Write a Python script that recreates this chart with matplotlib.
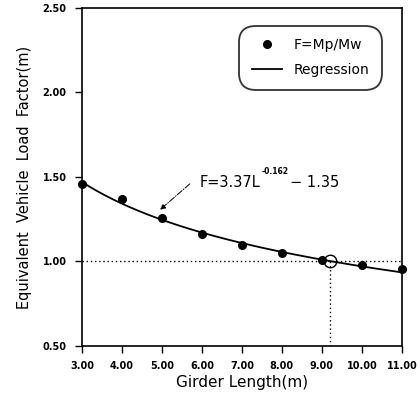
import numpy as np
import matplotlib
matplotlib.use("Agg")
import matplotlib.pyplot as plt
from matplotlib.transforms import offset_copy

# Data
girder_length = [3, 4, 5, 6, 7, 8, 9, 10, 11]
load_factor = [1.46, 1.37, 1.255, 1.165, 1.10, 1.05, 1.01, 0.98, 0.955]
reg_a, reg_b, reg_c = 3.37, -0.162, 1.35
crit_length = 9.2
crit_value = 1.00
x_ticks = [3, 4, 5, 6, 7, 8, 9, 10, 11]
y_ticks = [0.5, 1.0, 1.5, 2.0, 2.5]

fig = plt.figure(figsize=(4.2, 3.99), dpi=100)
ax = fig.add_axes([0.195, 0.133, 0.762, 0.847])
ax.set_xlim(3, 11)
ax.set_ylim(0.5, 2.5)

L = np.linspace(3, 11, 200)
F = reg_a * L ** reg_b - reg_c
ax.plot(L, F, color='black', lw=1.3, label='Regression', zorder=3)
ax.plot(girder_length, load_factor, 'o', color='black', ms=5.5, label='F=Mp/Mw',
        zorder=4, clip_on=False)

ax.plot([3, 11], [crit_value, crit_value], color='black', lw=1, ls=(0, (1, 2)), zorder=2)
ax.plot([crit_length, crit_length], [0.5, crit_value], color='black', lw=1, ls=(0, (1, 2)), zorder=2)
ax.plot([crit_length], [crit_value], 'o', mfc='none', mec='black', ms=9, mew=1, zorder=5)

ax.annotate('', xy=(4.9, 1.295), xytext=(5.75, 1.47),
            arrowprops=dict(arrowstyle='-|>', color='black', lw=0.7, ls='-.',
                            mutation_scale=8))

ax.set_xticks(x_ticks)
ax.set_yticks(y_ticks)
ax.set_xticklabels([f'{v:.2f}' for v in x_ticks], fontsize=7, fontweight='bold')
ax.set_yticklabels([f'{v:.2f}' for v in y_ticks], fontsize=7, fontweight='bold')
ax.tick_params(direction='out', length=5, width=1, pad=6)
for s in ax.spines.values():
    s.set_linewidth(1.2)

ax.set_xlabel('Girder Length(m)', fontsize=11, labelpad=3)
ax.set_ylabel('Equivalent  Vehicle  Load  Factor(m)', fontsize=10.5, labelpad=8)

# equation text in pieces with a small superscript
t1 = ax.text(5.95, 1.465, 'F=3.37L', fontsize=10.5, va='center', ha='left')
fig.canvas.draw()
r = fig.canvas.get_renderer()
bb = t1.get_window_extent(r)
inv = ax.transData.inverted()
x_end, _ = inv.transform((bb.x1, bb.y0))
t2 = ax.text(x_end, 1.465, '-0.162', fontsize=5.5, fontweight='bold', va='bottom', ha='left',
             transform=offset_copy(ax.transData, fig=fig, x=0.5, y=5, units='points'))
fig.canvas.draw()
bb2 = t2.get_window_extent(r)
x_end2, _ = inv.transform((bb2.x1, bb2.y0))
ax.text(x_end2, 1.465, '\u2212 1.35', fontsize=10.5, va='center', ha='left',
        transform=offset_copy(ax.transData, fig=fig, x=1, y=0, units='points'))

leg = ax.legend(handles=[ax.lines[1], ax.lines[0]], loc='upper right',
                bbox_to_anchor=(0.95, 0.96), fontsize=10, frameon=True,
                fancybox=True, edgecolor='black', handlelength=2.2, labelspacing=0.8,
                borderpad=0.7, markerscale=1.0)
leg.get_frame().set_linewidth(1.3)
leg.get_frame().set_boxstyle('round,pad=0.2,rounding_size=1.2')

fig.savefig('out.png', dpi=100)
